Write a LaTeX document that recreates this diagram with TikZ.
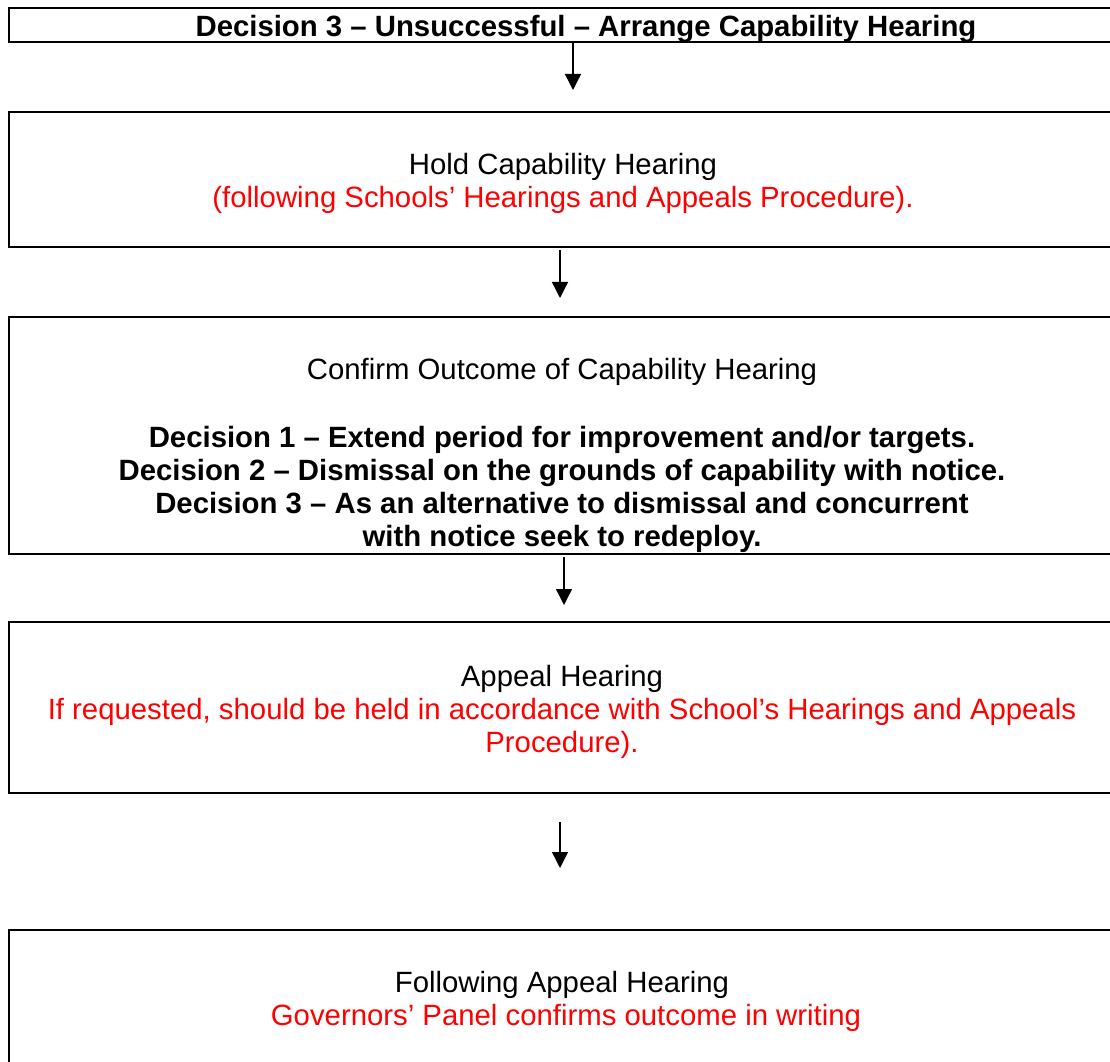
\documentclass[tikz,border=0pt]{standalone}
\usepackage{fontspec}
\setmainfont{Liberation Sans}
\usetikzlibrary{arrows.meta,calc}
\definecolor{txtred}{RGB}{255,0,0}
\tikzset{
  box/.style={draw=black, line width=1.5pt, rectangle, inner sep=0pt, outer sep=0pt, anchor=north west, minimum width=837pt},
  label/.style={inner sep=0pt, outer sep=0pt, align=center, font=\fontsize{22}{24.75}\selectfont},
  arr/.style={line width=1pt, -{Triangle[width=12pt,length=12pt]}}
}
\begin{document}
\begin{tikzpicture}[x=0.75pt,y=-0.75pt]
\useasboundingbox (0,0) rectangle (1110,1062);
\clip (0,0) rectangle (1110,1062);
% boxes
\node[box, minimum height=25.5pt] (b1) at (9,8) {};
\node[box, minimum height=101.25pt] (b2) at (9,112) {};
\node[box, minimum height=177.75pt] (b3) at (9,317) {};
\node[box, minimum height=128.25pt] (b4) at (9,622) {};
\node[box, minimum height=112.5pt] (b5) at (9,930) {};
% texts
\node[label, anchor=base, font=\fontsize{22}{24.75}\selectfont\bfseries] (t1) at (586,36.5) {Decision 3 – Unsuccessful – Arrange Capability Hearing};
\node[label, anchor=north] (t2) at (563,153.5) {Hold Capability Hearing\\ \textcolor{txtred}{(following Schools’ Hearings and Appeals Procedure).}};
\node[label, anchor=north] (t3) at (562,358.5) {Confirm Outcome of Capability Hearing\\[26.25pt]\textbf{Decision 1 – Extend period for improvement and/or targets.}\\ \textbf{Decision 2 – Dismissal on the grounds of capability with notice.}\\ \textbf{Decision 3 – As an alternative to dismissal and concurrent}\\ \textbf{with notice seek to redeploy.}};
\node[label, anchor=north] (t4) at (562,665.5) {Appeal Hearing\\ \textcolor{txtred}{If requested, should be held in accordance with School’s Hearings and Appeals}\\ \textcolor{txtred}{Procedure).}};
\node[label, anchor=north] (t5) at (562,971.5) {Following Appeal Hearing\\ \hspace*{6pt}\textcolor{txtred}{Governors’ Panel confirms outcome in writing}};
% arrow columns
\coordinate (c1) at (573,0);
\coordinate (c2) at (560,0);
\coordinate (c3) at (564,0);
\coordinate (c4) at (560,0);
% connectors
\draw[arr] (b1.south -| c1) -- ($(b2.north -| c1)+(0,-22)$);
\draw[arr] ($(b2.south -| c2)+(0,3)$) -- ($(b3.north -| c2)+(0,-19)$);
\draw[arr] ($(b3.south -| c3)+(0,3)$) -- ($(b4.north -| c3)+(0,-17)$);
\draw[arr] ($(b4.south -| c4)+(0,29)$) -- ($(b5.north -| c4)+(0,-62)$);
\end{tikzpicture}
\end{document}
